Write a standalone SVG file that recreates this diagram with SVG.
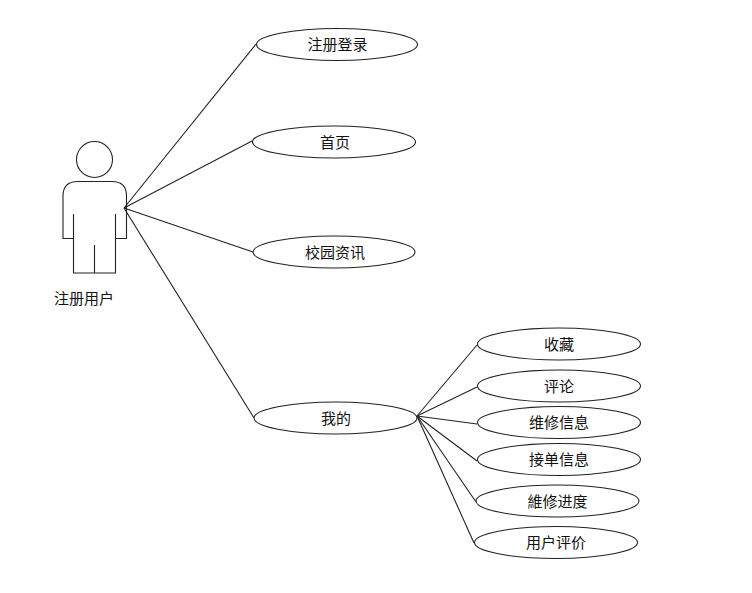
<svg xmlns="http://www.w3.org/2000/svg" width="752" height="593" viewBox="0 0 752 593">
<style>
.s{fill:#fff;stroke:#222;stroke-width:1.1}
.l{fill:none;stroke:#222;stroke-width:1.1}
text{font-family:"Noto Sans CJK SC","Liberation Sans",sans-serif;font-size:15px;fill:#111;text-anchor:middle}
</style>
<rect width="752" height="593" fill="#fff"/>
<g id="connectors" class="l">
<path d="M124 208L256 44"/>
<path d="M124 208L252 141"/>
<path d="M124 208L253 252"/>
<path d="M124 208L254 418"/>
<path d="M417 416L477 345"/>
<path d="M417 416L477 387"/>
<path d="M417 416L477 424"/>
<path d="M417 416L477 461"/>
<path d="M417 416L476 502"/>
<path d="M417 416L474 543"/>
</g>
<g id="actor">
<circle class="s" cx="94.500" cy="159.500" r="18"/>
<path class="l" d="M73.500 238.500H63V196Q63 181.500 78 181.500H112Q126.500 181.500 126.500 196V238.500H115.500"/>
<path class="l" d="M73.500 214V273H115.500V214M94.500 245V273"/>
<text id="actor-label" x="84" y="304">注册用户</text>
</g>
<g id="n1"><ellipse class="s" cx="337" cy="44.500" rx="80.500" ry="16"/><text x="337.500" y="50">注册登录</text></g>
<g id="n2"><ellipse class="s" cx="334" cy="142" rx="81.500" ry="16"/><text x="335" y="147.500">首页</text></g>
<g id="n3"><ellipse class="s" cx="334" cy="252" rx="81" ry="16"/><text x="335" y="257.500">校园资讯</text></g>
<g id="n4"><ellipse class="s" cx="335.500" cy="418" rx="81.500" ry="16"/><text x="336" y="423.500">我的</text></g>
<g id="n5"><ellipse class="s" cx="559" cy="344" rx="81.500" ry="16"/><text x="559" y="350">收藏</text></g>
<g id="n6"><ellipse class="s" cx="559" cy="386" rx="81.500" ry="16"/><text x="559" y="391.500">评论</text></g>
<g id="n7"><ellipse class="s" cx="559" cy="422.500" rx="81.500" ry="16"/><text x="559" y="428">维修信息</text></g>
<g id="n8"><ellipse class="s" cx="559" cy="459.500" rx="81.500" ry="16"/><text x="559" y="465">接单信息</text></g>
<g id="n9"><ellipse class="s" cx="557.500" cy="501" rx="81.500" ry="16"/><text x="557.500" y="506.500">維修进度</text></g>
<g id="n10"><ellipse class="s" cx="556" cy="542.500" rx="81.500" ry="16"/><text x="556" y="548">用户评价</text></g>
</svg>
